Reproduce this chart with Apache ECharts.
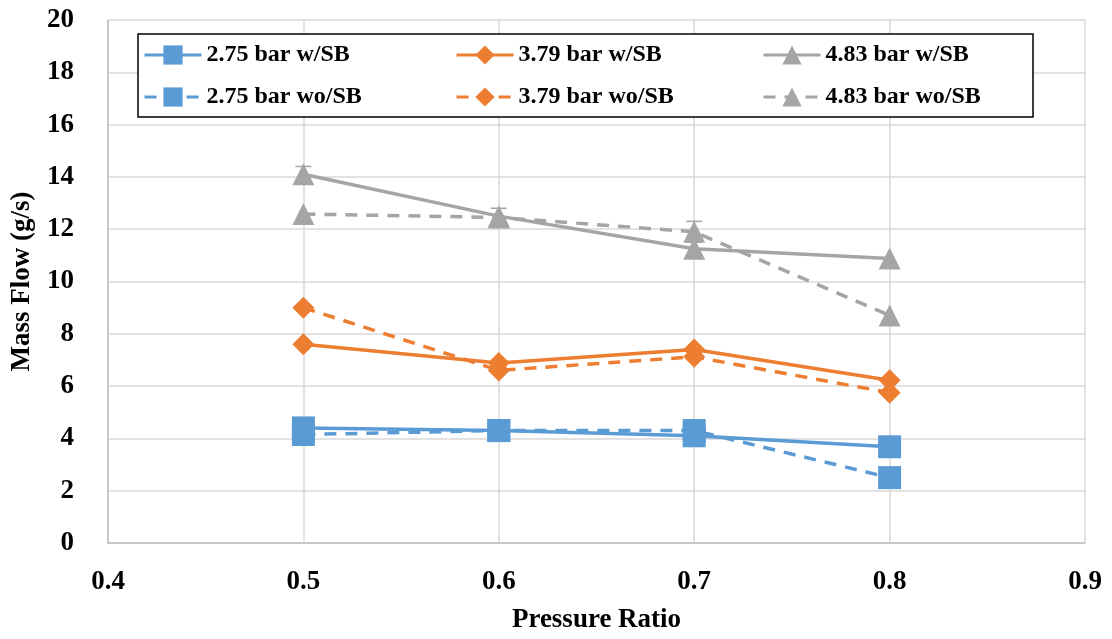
<!DOCTYPE html>
<html>
<head>
<meta charset="utf-8">
<script src="https://cdn.jsdelivr.net/npm/echarts@6/dist/echarts.min.js"></script>
<style>
  html, body { margin: 0; padding: 0; background: #fff; }
  #chart { width: 1112px; height: 639px; }
</style>
</head>
<body>
<div id="chart"></div>
<script>
// 数据
const pressureRatio = [0.5, 0.6, 0.7, 0.8];
const flow275With = [4.4, 4.3, 4.1, 3.68];
const flow275Without = [4.15, 4.3, 4.3, 2.5];
const flow379With = [7.6, 6.88, 7.4, 6.22];
const flow379Without = [9.0, 6.6, 7.12, 5.75];
const flow483With = [14.1, 12.5, 11.25, 10.88];
const flow483Without = [12.58, 12.45, 11.9, 8.7];
const err483With = [0.3, 0.3, 0, 0];
const err483Without = [0, 0, 0.4, 0];

const blue = '#5B9BD5';
const orange = '#ED7D31';
const grey = '#A5A5A5';
const font = '"Liberation Serif", "Times New Roman", serif';

const pairs = (ys) => pressureRatio.map((x, i) => [x, ys[i]]);

function lineSeries(name, ys, color, symbol, size, dashed) {
  return {
    name: name,
    type: 'line',
    data: pairs(ys),
    symbol: symbol,
    symbolSize: size,
    showAllSymbol: true,
    lineStyle: { color: color, width: 3.5, type: dashed ? [12, 9] : 'solid' },
    itemStyle: { color: color },
    z: 3
  };
}

function errorSeries(ys, errs, color) {
  return {
    type: 'custom',
    data: pressureRatio.map((x, i) => [x, ys[i] - errs[i], ys[i] + errs[i], errs[i]]),
    renderItem: function (params, api) {
      if (!api.value(3)) return null;
      const low = api.coord([api.value(0), api.value(1)]);
      const high = api.coord([api.value(0), api.value(2)]);
      const cap = 8;
      const style = { stroke: color, lineWidth: 1.5 };
      return {
        type: 'group',
        children: [
          { type: 'line', shape: { x1: high[0], y1: high[1], x2: low[0], y2: low[1] }, style: style },
          { type: 'line', shape: { x1: high[0] - cap, y1: high[1], x2: high[0] + cap, y2: high[1] }, style: style },
          { type: 'line', shape: { x1: low[0] - cap, y1: low[1], x2: low[0] + cap, y2: low[1] }, style: style }
        ]
      };
    },
    z: 4,
    silent: true
  };
}

function legendColumn(left, names) {
  return {
    orient: 'vertical',
    left: left,
    top: 43,
    padding: 0,
    itemWidth: 57,
    itemHeight: 24,
    itemGap: 18,
    z: 10,
    lineStyle: { width: 3 },
    textStyle: { fontFamily: font, fontSize: 24, fontWeight: 'bold', color: '#000' },
    data: names
  };
}

const myChart = echarts.init(document.getElementById('chart'));
const option = {
  animation: false,
  backgroundColor: '#fff',
  textStyle: { fontFamily: font },
  grid: { left: 108, right: 27, top: 20, bottom: 93 },
  graphic: [{
    type: 'rect',
    shape: { x: 138, y: 34, width: 895, height: 83 },
    style: { fill: '#fff', stroke: '#000', lineWidth: 1.5 },
    z: 2
  }],
  legend: [
    legendColumn(143, ['2.75 bar w/SB', '2.75 bar wo/SB']),
    legendColumn(455, ['3.79 bar w/SB', '3.79 bar wo/SB']),
    legendColumn(762, ['4.83 bar w/SB', '4.83 bar wo/SB'])
  ],
  xAxis: {
    type: 'value',
    min: 0.4,
    max: 0.9,
    interval: 0.1,
    name: 'Pressure Ratio',
    nameLocation: 'middle',
    nameGap: 64,
    nameTextStyle: { fontFamily: font, fontSize: 27, fontWeight: 'bold', color: '#000' },
    axisLine: { lineStyle: { color: '#bfbfbf', width: 1.5 } },
    axisTick: { show: false },
    axisLabel: {
      fontFamily: font, fontSize: 27, fontWeight: 'bold', color: '#000', margin: 26,
      formatter: (v) => v.toFixed(1)
    },
    splitLine: { show: true, lineStyle: { color: '#d9d9d9', width: 1.5 } }
  },
  yAxis: {
    type: 'value',
    min: 0,
    max: 20,
    interval: 2,
    name: 'Mass Flow (g/s)',
    nameLocation: 'middle',
    nameGap: 72,
    nameTextStyle: { fontFamily: font, fontSize: 27, fontWeight: 'bold', color: '#000' },
    axisLine: { show: true, lineStyle: { color: '#bfbfbf', width: 1.5 } },
    axisTick: { show: false },
    axisLabel: { fontFamily: font, fontSize: 27, fontWeight: 'bold', color: '#000', margin: 34 },
    splitLine: { show: true, lineStyle: { color: '#d9d9d9', width: 1.5 } }
  },
  series: [
    lineSeries('2.75 bar w/SB', flow275With, blue, 'rect', 23, false),
    lineSeries('3.79 bar w/SB', flow379With, orange, 'diamond', 22, false),
    lineSeries('4.83 bar w/SB', flow483With, grey, 'triangle', 22, false),
    lineSeries('2.75 bar wo/SB', flow275Without, blue, 'rect', 23, true),
    lineSeries('3.79 bar wo/SB', flow379Without, orange, 'diamond', 22, true),
    lineSeries('4.83 bar wo/SB', flow483Without, grey, 'triangle', 22, true),
    errorSeries(flow483With, err483With, grey),
    errorSeries(flow483Without, err483Without, grey)
  ]
};
// 绘制图表
myChart.setOption(option);
</script>
</body>
</html>
